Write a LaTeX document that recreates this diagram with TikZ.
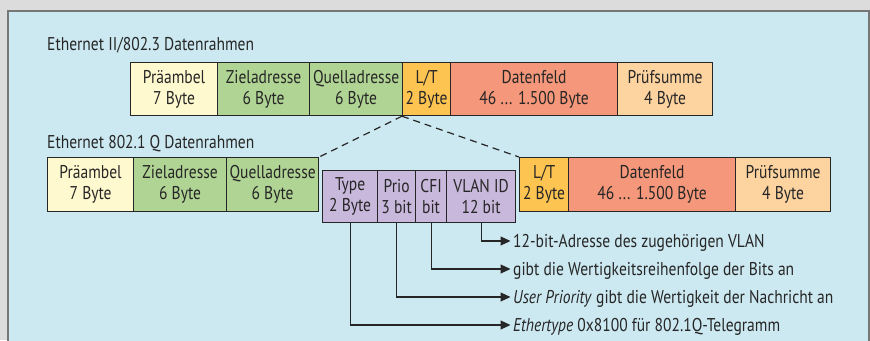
\documentclass[tikz,border=0pt]{standalone}
\usepackage{fontspec}
\setmainfont[FakeStretch=0.84]{PT Sans}
\usetikzlibrary{arrows.meta}
\definecolor{bggrey}{HTML}{DCDCDC}
\definecolor{panel}{HTML}{CCE8F0}
\definecolor{frameline}{HTML}{777777}
\definecolor{ink}{HTML}{262626}
\definecolor{cpre}{HTML}{FFF9CF}
\definecolor{cgreen}{HTML}{B0D494}
\definecolor{clt}{HTML}{FDC451}
\definecolor{cdata}{HTML}{F5977A}
\definecolor{csum}{HTML}{FDD3A0}
\definecolor{cpurple}{HTML}{C8B8DC}
\tikzset{
  field/.style={draw=ink, line width=1.2pt, inner sep=0pt, anchor=north west,
    align=center, text=ink, font=\fontsize{18.5}{21}\selectfont},
  title/.style={anchor=base west, inner sep=0pt, text=ink, font=\fontsize{18.5}{21}\selectfont},
  lbl/.style={anchor=base west, inner sep=0pt, text=ink, font=\fontsize{18.5}{21}\selectfont},
  conn/.style={draw=ink, line width=1.2pt, -{Triangle[length=10pt,width=9pt]}},
  dashln/.style={draw=ink, line width=1.2pt, dash pattern=on 7pt off 5pt}
}
\newcommand{\fld}[7]{\node[field, fill=#2, minimum width=#5pt, minimum height=#6pt] (#1) at (#3,#4) {#7};}
\begin{document}
\begin{tikzpicture}[x=1pt,y=-1pt]
\useasboundingbox (0,0) rectangle (870,340);
\fill[bggrey] (0,0) rectangle (870,340);
\fill[panel] (8,11) rectangle (869,341);
\draw[frameline, line width=2pt] (8,342) -- (8,11) -- (869,11) -- (869,342);

\node[title] (t1) at (47,50) {Ethernet II/802.3 Datenrahmen};
\node[title] (t2) at (47,148) {Ethernet 802.1 Q Datenrahmen};

% row 1
\fld{pre1}{cpre}{130}{62}{87}{53}{Präambel\\7 Byte}
\fld{z1}{cgreen}{217}{62}{92}{53}{Zieladresse\\6 Byte}
\fld{q1}{cgreen}{309}{62}{93}{53}{Quelladresse\\6 Byte}
\fld{lt1}{clt}{402}{62}{48}{53}{L/T\\2 Byte}
\fld{d1}{cdata}{450}{62}{167}{53}{Datenfeld\\46 ... 1.500 Byte}
\fld{s1}{csum}{617}{62}{95}{53}{Prüfsumme\\4 Byte}

% row 2
\fld{pre2}{cpre}{47}{157}{86}{54}{Präambel\\7 Byte}
\fld{z2}{cgreen}{133}{157}{93}{54}{Zieladresse\\6 Byte}
\fld{q2}{cgreen}{226}{157}{92}{54}{Quelladresse\\6 Byte}
\fld{ty}{cpurple}{322}{170}{55}{52}{Type\\2 Byte}
\fld{pr}{cpurple}{377}{170}{38}{52}{Prio\\3 bit}
\fld{cf}{cpurple}{415}{170}{31}{52}{CFI\\bit}
\fld{vl}{cpurple}{446}{170}{69}{52}{VLAN ID\\12 bit}
\fld{lt2}{clt}{519}{157}{49}{54}{L/T\\2 Byte}
\fld{d2}{cdata}{568}{157}{167}{54}{Datenfeld\\46 ... 1.500 Byte}
\fld{s2}{csum}{735}{157}{95}{54}{Prüfsumme\\4 Byte}

\draw[dashln] (lt1.south west) -- (q2.north east);
\draw[dashln] (lt1.south west) -- (lt2.north west);

% labels
\node[lbl] (l1) at (513,247.5) {12-bit-Adresse des zugehörigen VLAN};
\node[lbl] (l2) at (513,275.5) {gibt die Wertigkeitsreihenfolge der Bits an};
\node[lbl] (l3) at (513,303.5) {\textit{User Priority} gibt die Wertigkeit der Nachricht an};
\node[lbl] (l4) at (513,331.5) {\textit{Ethertype} 0x8100 für 802.1Q-Telegramm};

\draw[conn] (vl.south) |- ([xshift=-2.5pt,yshift=6.5pt]l1.base west);
\draw[conn] (cf.south) |- ([xshift=-2.5pt,yshift=6.5pt]l2.base west);
\draw[conn] (pr.south) |- ([xshift=-2.5pt,yshift=6.5pt]l3.base west);
\draw[conn] (ty.south) |- ([xshift=-2.5pt,yshift=6.5pt]l4.base west);
\end{tikzpicture}
\end{document}
